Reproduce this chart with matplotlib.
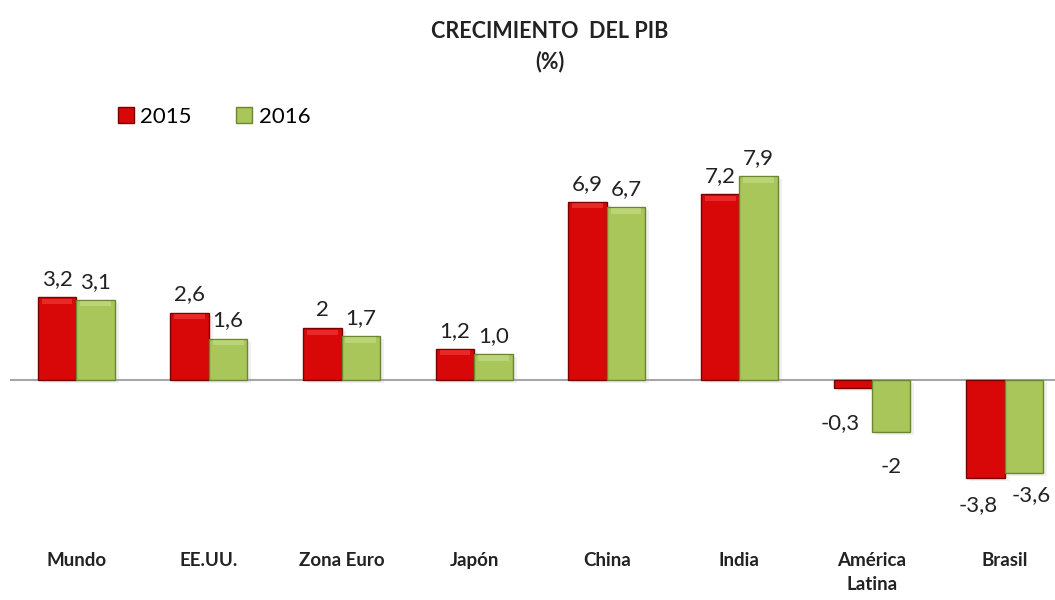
import numpy as np
import matplotlib
matplotlib.use('Agg')
from matplotlib import pyplot as plt
from matplotlib.patches import Patch

plt.rcParams['font.family'] = ['Lato', 'DejaVu Sans']

# datos
regiones = ['Mundo', 'EE.UU.', 'Zona Euro', 'Japón', 'China', 'India', 'América\nLatina', 'Brasil']
pib_2015 = [3.2, 2.6, 2.0, 1.2, 6.9, 7.2, -0.3, -3.8]
pib_2016 = [3.1, 1.6, 1.7, 1.0, 6.7, 7.9, -2.0, -3.6]
etiq_2015 = ['3,2', '2,6', '2', '1,2', '6,9', '7,2', '-0,3', '-3,8']
etiq_2016 = ['3,1', '1,6', '1,7', '1,0', '6,7', '7,9', '-2', '-3,6']

# desplazamiento de las etiquetas (puntos), como las coloca Excel
desp_2015 = [(0, 0), (0, 0), (0, 0), (0, 0), (0, 0), (0, 0), (-9, -8), (-5, -2)]
desp_2016 = [(0, 0), (0, 0), (0, 0), (0, 0), (0, 0), (0, 0), (0, -8), (5, 1)]

rojo, rojo_borde = '#D80808', '#7A0000'
verde, verde_borde = '#A8C65A', '#6B8530'

fig = plt.figure(figsize=(10.55, 6), dpi=100)
ax = fig.add_axes([10 / 1055, 0.1733, 1045 / 1055, 0.5803])

x = np.arange(len(regiones))
w = 0.29

# sombra suave
for xs, vals in ((x - w / 2, pib_2015), (x + w / 2, pib_2016)):
    ax.bar(xs + 0.03, vals, w, bottom=-0.12, color='#000000', alpha=0.06, zorder=1)

b1 = ax.bar(x - w / 2, pib_2015, w, color=rojo, edgecolor=rojo_borde, linewidth=1.0, zorder=3)
b2 = ax.bar(x + w / 2, pib_2016, w, color=verde, edgecolor=verde_borde, linewidth=1.0, zorder=3)

# brillo en la parte superior de las barras positivas
for bars, c in ((b1, '#FF5050'), (b2, '#D4E89A')):
    for b in bars:
        h = b.get_height()
        if h > 0.3:
            ax.bar(b.get_x() + b.get_width() / 2, 0.2, b.get_width() * 0.8,
                   bottom=h - 0.25, color=c, alpha=0.45, linewidth=0, zorder=4)

ax.axhline(0, color='#A6A6A6', linewidth=1.5, zorder=2)

# etiquetas de datos
series = ((x - w / 2, pib_2015, etiq_2015, desp_2015), (x + w / 2, pib_2016, etiq_2016, desp_2016))
for xs, vals, labs, desp in series:
    for xi, v, t, (dx, dy) in zip(xs, vals, labs, desp):
        if v >= 0:
            ax.annotate(t, (xi, v), xytext=(dx, 6 + dy), textcoords='offset points',
                        ha='center', va='bottom', fontsize=16, color='#222222')
        else:
            ax.annotate(t, (xi, v), xytext=(dx, -10 + dy), textcoords='offset points',
                        ha='center', va='top', fontsize=16, color='#222222')

ax.set_xlim(-0.5, 7.38)
ax.set_ylim(-4.5, 9)
ax.set_xticks(x)
ax.set_xticklabels(regiones, fontsize=13.5, fontweight='bold', color='#222222', va='top',
                   linespacing=1.5)
ax.tick_params(axis='x', length=0, pad=40)
ax.set_yticks([])
for s in ax.spines.values():
    s.set_visible(False)

fig.text(0.5213, 0.948, 'CRECIMIENTO  DEL PIB', ha='center', va='center',
         fontsize=15.5, fontweight='bold', color='#222222')
fig.text(0.5213, 0.898, '(%)', ha='center', va='center',
         fontsize=15.5, fontweight='bold', color='#222222')

handles = [Patch(facecolor=rojo, edgecolor=rojo_borde), Patch(facecolor=verde, edgecolor=verde_borde)]
fig.legend(handles, ['2015', '2016'], loc='center left', bbox_to_anchor=(0.112, 0.805),
           ncol=2, frameon=False, fontsize=16, handlelength=0.7, handleheight=0.7,
           handletextpad=0.3, columnspacing=2.0, borderaxespad=0, borderpad=0)

fig.savefig('out.png', dpi=100)
